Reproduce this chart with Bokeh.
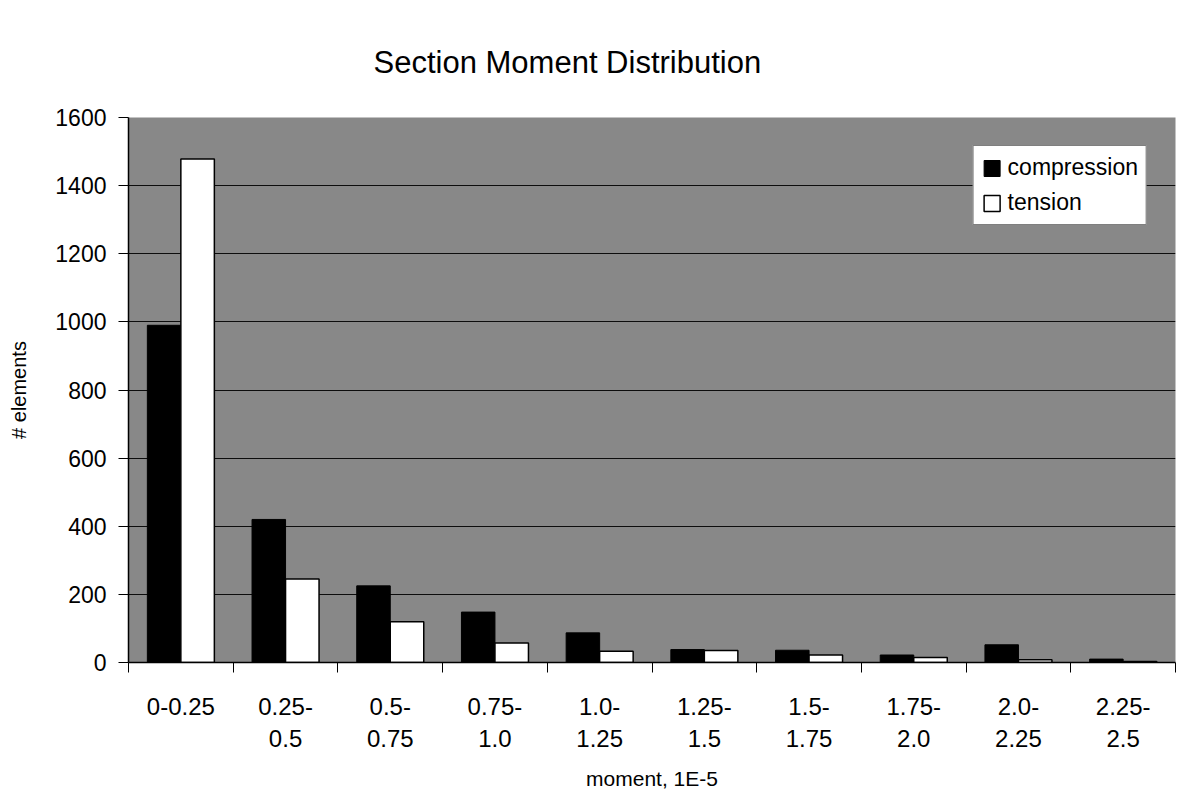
from bokeh.plotting import figure
from bokeh.models import (ColumnDataSource, Range1d, FixedTicker, Legend, LegendItem, Title)
from bokeh.transform import dodge
from bokeh.embed import file_html
from bokeh.resources import INLINE

categories = ["0-0.25", "0.25-\n0.5", "0.5-\n0.75", "0.75-\n1.0", "1.0-\n1.25",
              "1.25-\n1.5", "1.5-\n1.75", "1.75-\n2.0", "2.0-\n2.25", "2.25-\n2.5"]
compression = [990, 420, 225, 148, 87, 38, 36, 22, 52, 10]
tension = [1478, 245, 120, 57, 33, 35, 22, 15, 8, 3]
y_ticks = [0, 200, 400, 600, 800, 1000, 1200, 1400, 1600]

xpos = [i + 0.5 for i in range(len(categories))]
src = ColumnDataSource(dict(x=xpos, compression=compression, tension=tension))

FONT = "Liberation Sans"

p = figure(width=1181, height=792, output_backend="svg", toolbar_location=None,
           x_range=Range1d(0, len(categories)), y_range=Range1d(0, 1600),
           min_border_left=128, min_border_right=6, min_border_top=117, min_border_bottom=126,
           background_fill_color="#888888", border_fill_color="white")
p.outline_line_color = None

t = Title(text="Section Moment Distribution", align="left", offset=245, standoff=72,
          vertical_align="top",
          text_font=FONT, text_font_size="31px", text_font_style="normal", text_color="black")
p.add_layout(t, "above")

r1 = p.vbar(x=dodge("x", -0.16, range=p.x_range), top="compression", width=0.32, source=src,
            fill_color="black", line_color="black", line_width=1)
r2 = p.vbar(x=dodge("x", 0.16, range=p.x_range), top="tension", width=0.32, source=src,
            fill_color="white", line_color="black", line_width=1.5)

# axes
p.xaxis.ticker = FixedTicker(ticks=xpos, minor_ticks=list(range(len(categories) + 1)))
p.xaxis.major_label_overrides = {x: c for x, c in zip(xpos, categories)}
p.xaxis.major_tick_out = 0
p.xaxis.major_tick_in = 0
p.xaxis.minor_tick_out = 10
p.xaxis.minor_tick_in = 0
p.xaxis.minor_tick_line_color = "black"
p.xaxis.axis_line_color = "black"
p.xaxis.axis_line_width = 1.5
p.xaxis.major_label_text_font = FONT
p.xaxis.major_label_text_font_size = "24px"
p.xaxis.major_label_text_color = "black"
p.xaxis.major_label_standoff = 20
p.xaxis.axis_label = "moment, 1E-5"
p.xaxis.axis_label_text_font = FONT
p.xaxis.axis_label_text_font_size = "21px"
p.xaxis.axis_label_text_font_style = "normal"
p.xaxis.axis_label_text_color = "black"
p.xaxis.axis_label_standoff = 12

p.yaxis.ticker = FixedTicker(ticks=y_ticks)
p.yaxis.major_tick_out = 10
p.yaxis.major_tick_in = 0
p.yaxis.minor_tick_out = 0
p.yaxis.minor_tick_in = 0
p.yaxis.axis_line_color = "black"
p.yaxis.axis_line_width = 1.5
p.yaxis.major_label_text_font = FONT
p.yaxis.major_label_text_font_size = "23px"
p.yaxis.major_label_text_color = "black"
p.yaxis.major_label_standoff = 12
p.yaxis.axis_label = "# elements"
p.yaxis.axis_label_text_font = FONT
p.yaxis.axis_label_text_font_size = "20px"
p.yaxis.axis_label_text_font_style = "normal"
p.yaxis.axis_label_text_color = "black"
p.yaxis.axis_label_standoff = 22

p.xgrid.grid_line_color = None
p.ygrid.grid_line_color = "black"
p.ygrid.grid_line_width = 1.2
p.ygrid.grid_line_alpha = 0.9

legend = Legend(items=[LegendItem(label="compression", renderers=[r1]),
                       LegendItem(label="tension", renderers=[r2])],
                location="top_right", margin=28, padding=8, spacing=8,
                border_line_color="black", border_line_width=1.2,
                background_fill_color="white", background_fill_alpha=1,
                label_text_font=FONT, label_text_font_size="23px",
                label_text_color="black",
                glyph_width=20, glyph_height=20, label_standoff=6)
p.add_layout(legend)

open("out.html", "w").write(file_html(p, INLINE))
